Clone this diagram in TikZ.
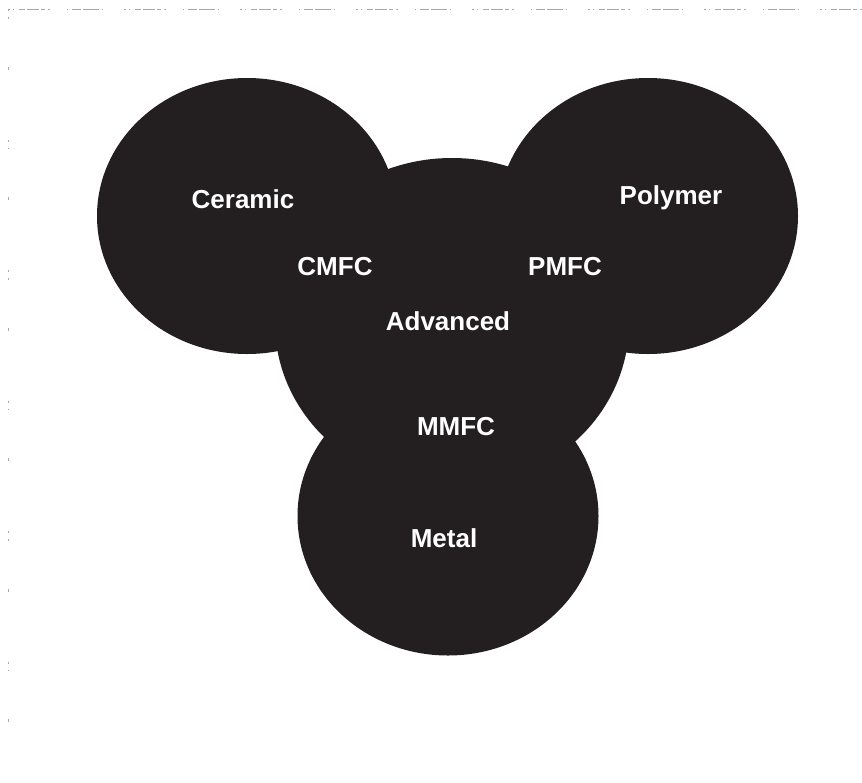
\documentclass[tikz,border=0pt]{standalone}
\usepackage{fontspec}
\setmainfont{Liberation Sans}
\usepackage{xcolor}
\usepackage{tikz}
\usetikzlibrary{shapes.geometric}
\definecolor{ink}{HTML}{231F20}
\definecolor{scan}{HTML}{A8A8A8}

\begin{document}
\begin{tikzpicture}[x=1pt,y=-1pt,
    blob/.style={ellipse,fill=ink,inner sep=0pt},
    tag/.style={text=white,font=\fontsize{26}{30}\selectfont\bfseries,inner sep=0pt}]
  \useasboundingbox (0,0) rectangle (862,782);
  % faint dotted edges along the top and left
  \coordinate (tl) at (8,9);
  \coordinate (tr) at (862,9);
  \coordinate (bl) at (8,782);
  \draw[scan,line width=1pt,dash pattern=on 2pt off 3pt on 1pt off 5pt on 6pt off 2pt on 12pt off 2pt on 4pt off 3pt on 2pt off 17pt on 1pt off 4pt on 9pt off 2pt on 16pt off 3pt on 1pt off 21pt] (tl)--(tr);
  \draw[scan,line width=1pt,dash pattern=on 2pt off 6pt on 1.5pt off 48pt on 3pt off 70pt] (tl)--(bl);
  % the four material fields
  \node[blob,minimum width=300pt,minimum height=276pt] (ceramic) at (247,216) {};
  \node[blob,minimum width=300pt,minimum height=276pt] (polymer) at (648,216) {};
  \node[blob,minimum width=354pt,minimum height=330pt] (advanced) at (452,323) {};
  \node[blob,minimum width=301pt,minimum height=279pt] (metal) at (448,516) {};
  % labels
  \foreach \nm/\x/\y/\txt in {lceramic/243/199/Ceramic,lpolymer/671/198/Polymer,
      lcmfc/335/267/CMFC,lpmfc/565/267/PMFC,ladv/448/321/Advanced,
      lmmfc/456/427/MMFC,lmetal/444/538/Metal}
     {\node[tag] (\nm) at (\x,\y) {\txt};}
\end{tikzpicture}
\end{document}
